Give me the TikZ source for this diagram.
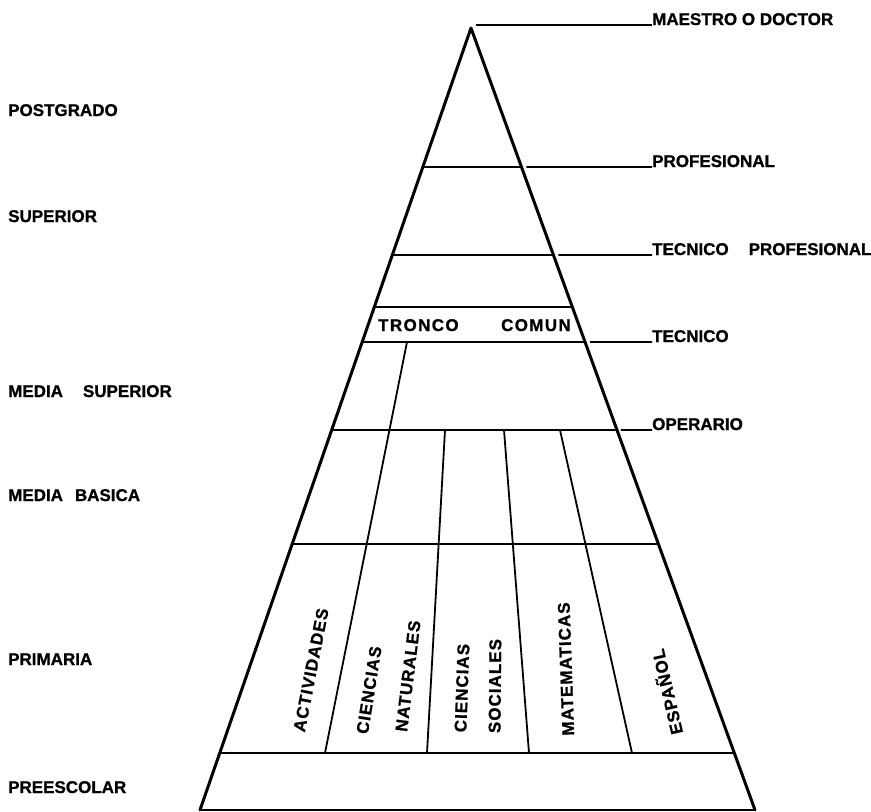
\documentclass[tikz,border=0pt]{standalone}
\usepackage{fontspec}
\setmainfont{Liberation Sans}
\usetikzlibrary{calc}
\newfontfamily\lblfont[UprightFont=*-Bold,FakeBold=1]{Liberation Sans}
\newfontfamily\spacedfont[UprightFont=*-Bold,FakeBold=1,LetterSpace=8]{Liberation Sans}
\newfontfamily\vspacedfont[UprightFont=*-Bold,FakeBold=1,LetterSpace=6]{Liberation Sans}
\newcommand\mklevel[2]{%
  \coordinate (h#1l) at ($(apex)!{(#2-28)/782}!(baseL)$);
  \coordinate (h#1r) at ($(apex)!{(#2-28)/782}!(baseR)$);}
\begin{document}
\begin{tikzpicture}[x=1pt,y=-1pt,
  edge/.style={line width=3pt,line join=round,line cap=round},
  band/.style={line width=2.5pt},
  divider/.style={line width=1.8pt},
  leader/.style={line width=1.6pt},
  lab/.style={inner sep=0pt,anchor=base west,font=\fontsize{17}{20}\lblfont},
  vlab/.style={inner sep=0pt,font=\fontsize{17}{20}\vspacedfont}]
\useasboundingbox (0,0) rectangle (871,812);
\coordinate (apex) at (471,28);
\coordinate (baseL) at (200,810);
\coordinate (baseR) at (755,810);
\mklevel{a}{167}
\mklevel{b}{255}
\mklevel{c}{307}
\mklevel{d}{342}
\mklevel{e}{430}
\mklevel{f}{544}
\mklevel{g}{753}
% outline
\draw[edge] (baseL) -- (apex) -- (baseR);
\draw[band] (baseL) -- (baseR);
\foreach \n in {a,b,c,d,e,f,g} \draw[band] (h\n l) -- (h\n r);
% dividers
\coordinate (d1t) at (407,342); \coordinate (d1b) at (325,753);
\coordinate (d2t) at (445,430); \coordinate (d2b) at (427,753);
\coordinate (d3t) at (504,430); \coordinate (d3b) at (529,753);
\coordinate (d4t) at (560,430); \coordinate (d4b) at (632,753);
\foreach \i in {1,2,3,4} \draw[divider] (d\i t) -- (d\i b);
% right labels
\node[lab] (tmae) at (652,25) {MAESTRO O DOCTOR};
\node[lab] (tprof) at (652,167) {PROFESIONAL};
\node[lab] (ttp) at (652,255) {TECNICO\hspace{20pt}PROFESIONAL};
\node[lab] (ttec) at (652,342) {TECNICO};
\node[lab] (tope) at (652,430) {OPERARIO};
\coordinate (s0) at (476,25);
\coordinate (s1) at ($(har)+(5,0)$);
\coordinate (s2) at ($(hbr)+(5,0)$);
\coordinate (s3) at ($(hdr)+(5,0)$);
\coordinate (s4) at ($(her)+(4,0)$);
\draw[leader] (s0) -- (tmae.base west);
\draw[leader] (s1) -- (tprof.base west);
\draw[leader] (s2) -- (ttp.base west);
\draw[leader] (s3) -- (ttec.base west);
\draw[leader] (s4) -- (tope.base west);
% left labels
\node[lab] (lpos) at (8,116) {POSTGRADO};
\node[lab] (lsup) at (8,222) {SUPERIOR};
\node[lab] (lms) at (8,397) {MEDIA\hspace{20pt}SUPERIOR};
\node[lab] (lmb) at (8,501) {MEDIA\hspace{12pt}BASICA};
\node[lab] (lpri) at (8,665) {PRIMARIA};
\node[lab] (lpre) at (8,793) {PREESCOLAR};
% tronco comun
\node[lab,font=\fontsize{17}{20}\spacedfont] (tro) at (378,331) {TRONCO};
\node[lab,anchor=base east,font=\fontsize{17}{20}\spacedfont] (com) at (571,331) {COMUN};
% subject labels
\node[vlab,rotate=79] (sact) at (311,670) {ACTIVIDADES};
\node[vlab,rotate=81] (scn) at (369,690) {CIENCIAS};
\node[vlab,rotate=83] (snat) at (408,676) {NATURALES};
\node[vlab,rotate=88] (scs) at (462,688) {CIENCIAS};
\node[vlab,rotate=89.5] (ssoc) at (495,686) {SOCIALES};
\node[vlab,rotate=92] (smat) at (566,669) {MATEMATICAS};
\node[vlab,rotate=103] (sesp) at (666,692) {ESPAÑOL};
\end{tikzpicture}
\end{document}
